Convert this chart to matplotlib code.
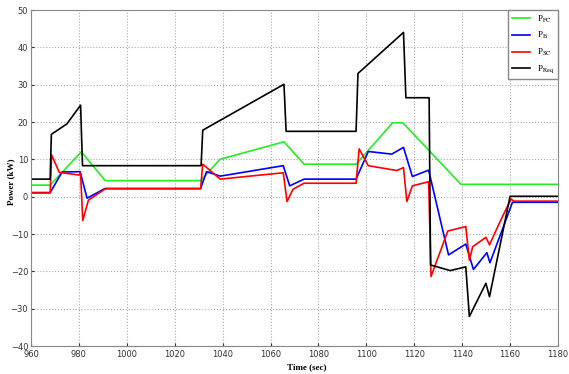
import matplotlib.pyplot as plt

# P_Req (black)
t_req = [960, 968, 968.5, 975, 980.7, 981.5, 1031, 1031.7, 1065.6, 1066.5, 1095.7, 1096.5,
         1115.5, 1116.5, 1126.2, 1126.8, 1135, 1141.5, 1143, 1149.9, 1151.4, 1160, 1180]
p_req = [4.7, 4.7, 16.7, 19.5, 24.5, 8.3, 8.3, 17.8, 30.1, 17.5, 17.5, 33,
         44, 26.5, 26.5, -18.3, -19.8, -18.8, -32.1, -23.2, -26.8, 0.1, 0.1]

# P_FC (green)
t_fc = [960, 968, 981, 991, 1030.8, 1038.9, 1065.6, 1074, 1095.7, 1111, 1115.2, 1139.5, 1180]
p_fc = [3.1, 3.1, 12.0, 4.3, 4.3, 10.0, 14.7, 8.7, 8.7, 19.8, 19.8, 3.3, 3.3]

# P_B (blue)
t_b = [960, 968, 973, 980.5, 983.4, 991, 1030.8, 1033.3, 1039, 1065.3, 1068, 1074, 1095.7,
       1100.8, 1110.6, 1115.5, 1119.2, 1126, 1134.3, 1141.5, 1144.7, 1150.3, 1151.6, 1161, 1180]
p_b = [1.1, 1.1, 6.6, 6.7, -0.4, 2.2, 2.2, 6.7, 5.5, 8.3, 2.9, 4.7, 4.7,
       12.1, 11.4, 13.2, 5.4, 7.1, -15.6, -12.7, -19.5, -15.0, -17.7, -1.5, -1.5]

# P_SC (red)
t_sc = [960, 968, 968.6, 971.8, 980, 980.7, 981.6, 984, 991, 1030.8, 1031.7, 1039, 1065.3,
        1066.9, 1069.4, 1074, 1095.7, 1097, 1100.8, 1112.7, 1115.5, 1116.9, 1119.2, 1126,
        1127, 1134, 1141.5, 1143, 1144.4, 1149.9, 1151.4, 1155.8, 1160.4, 1161.5, 1180]
p_sc = [1.0, 1.0, 11.2, 6.5, 5.8, 6.3, -6.4, -0.9, 2.1, 2.1, 8.7, 4.7, 6.4,
        -1.3, 2.0, 3.6, 3.6, 12.8, 8.3, 7.0, 7.8, -1.3, 2.9, 4.0,
        -21.4, -9.2, -8.0, -17.0, -13.4, -10.9, -12.9, -6.7, -0.6, -1.2, -1.2]

plt.rcParams['mathtext.fontset'] = 'stix'

fig = plt.figure(figsize=(5.69, 3.74), dpi=100)
ax = fig.add_axes([31 / 569, 1 - 346 / 374, (558 - 31) / 569, (346 - 10) / 374])

ax.plot(t_fc, p_fc, color='#22ee22', linewidth=1.2, label='P$_{\\mathrm{FC}}$')
ax.plot(t_b, p_b, color='#0000ff', linewidth=1.2, label='P$_{\\mathrm{B}}$')
ax.plot(t_sc, p_sc, color='#ff0000', linewidth=1.2, label='P$_{\\mathrm{SC}}$')
ax.plot(t_req, p_req, color='#000000', linewidth=1.2, label='P$_{\\mathrm{Req}}$')

ax.set_xlim(960, 1180)
ax.set_ylim(-40, 50)
ax.set_xticks(range(960, 1181, 20))
ax.set_yticks(range(-40, 51, 10))
ax.tick_params(labelsize=6, colors='#333333', length=2, direction='in', pad=2)
ax.tick_params(axis='x', pad=3)
ax.grid(True, linestyle=':', color='#aaaaaa', linewidth=0.8)
for s in ax.spines.values():
    s.set_color('#888888')

ax.set_xlabel('Time (sec)', family='Liberation Serif', fontweight='bold', fontsize=6.5)
ax.set_ylabel('Power (kW)', family='Liberation Serif', fontweight='bold', fontsize=6.5)
ax.xaxis.set_label_coords(0.523, -0.05)
ax.yaxis.set_label_coords(-0.03, 0.49)

leg = ax.legend(loc='upper right', borderaxespad=0, prop={'family': 'Liberation Serif', 'size': 6.5},
                fancybox=False, framealpha=1, handlelength=2.0, labelspacing=0.6)
leg.get_frame().set_edgecolor('#888888')

fig.savefig('out.png')
